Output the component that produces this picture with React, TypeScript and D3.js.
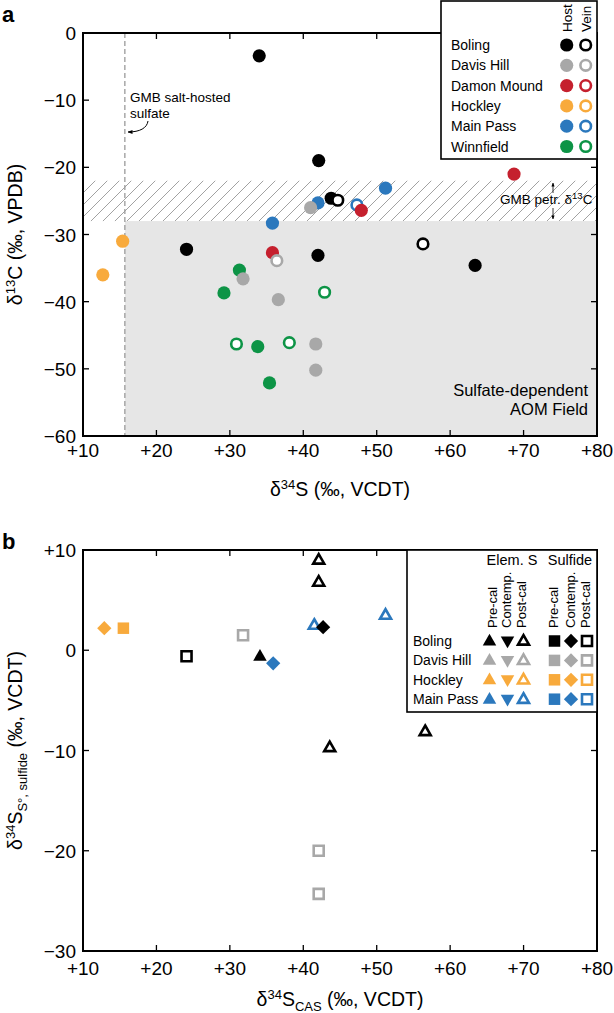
import React from "react";
import * as d3 from "d3";

// ---------- DATA ----------
const localities = ["Boling", "Davis Hill", "Damon Mound", "Hockley", "Main Pass", "Winnfield"];
const localityColors = ["#000000", "#a8a8a8", "#c5202e", "#f8aa3c", "#2b78bd", "#0d9446"];

// Panel a: [δ34S, δ13C]
const bolingHost = [[34.0, -3.4], [42.1, -19.0], [43.8, -24.6], [24.1, -32.2], [42.0, -33.1], [63.4, -34.6]];
const bolingVein = [[44.7, -24.9], [56.3, -31.4]];
const davisHillHost = [[41.0, -26.0], [31.8, -36.6], [36.6, -39.7], [41.7, -46.3], [41.7, -50.2]];
const davisHillVein = [[36.4, -33.9]];
const damonMoundHost = [[68.7, -21.0], [47.9, -26.4], [35.8, -32.7]];
const damonMoundVein: number[][] = [];
const hockleyHost = [[15.4, -31.0], [12.7, -36.0]];
const hockleyVein: number[][] = [];
const mainPassHost = [[51.2, -23.1], [42.0, -25.3], [35.8, -28.3]];
const mainPassVein = [[47.3, -25.6]];
const winnfieldHost = [[31.3, -35.3], [29.2, -38.7], [33.8, -46.7], [35.4, -52.1]];
const winnfieldVein = [[42.9, -38.6], [30.9, -46.3], [38.1, -46.1]];

const gmbPetrC = [-22, -28]; // hatched band
const aomTop = -28;
const gmbSaltSulfate = 15.7;

// Panel b: [δ34S CAS, δ34S S°/sulfide]
const bLocalities = ["Boling", "Davis Hill", "Hockley", "Main Pass"];
const bColors = ["#000000", "#a8a8a8", "#f8aa3c", "#2b78bd"];
const bolingElemPre = [[34.1, -0.6]];
const bolingElemPost = [[42.1, 9.0], [42.1, 6.8], [43.6, -9.7], [56.6, -8.1]];
const bolingSulfPost = [[24.1, -0.6]];
const bolingSulfCont = [[42.7, 2.3]];
const davisSulfPost = [[31.8, 1.5], [42.1, -20.0], [42.1, -24.3]];
const hockleySulfPre = [[15.5, 2.2]];
const hockleySulfCont = [[12.9, 2.2]];
const mainPassElemPost = [[41.5, 2.5], [51.2, 3.5]];
const mainPassSulfCont = [[35.9, -1.3]];

const xTicks = [10, 20, 30, 40, 50, 60, 70, 80];
const yTicksA = [0, -10, -20, -30, -40, -50, -60];
const yTicksB = [10, 0, -10, -20, -30];

// ---------- LAYOUT ----------
const W = 614, H = 1013;
const L = 83, R = 597;
const aTop = 33, aBot = 436;
const bTop = 550, bBot = 951;
const FONT = "'Liberation Sans', Arial, Helvetica, sans-serif";
const TICK_FS = 19;
const TITLE_FS = 19.5;

const x = d3.scaleLinear().domain([10, 80]).range([L, R]);
const yA = d3.scaleLinear().domain([-60, 0]).range([aBot, aTop]);
const yB = d3.scaleLinear().domain([-30, 10]).range([bBot, bTop]);

const fmt = (v: number) => (v > 0 ? "+" + v : v < 0 ? "\u2212" + Math.abs(v) : "0");

type Shape = "triUp" | "triDown" | "square" | "diamond";
function shapePath(shape: Shape, s: number) {
  if (shape === "triUp") {
    const h = s * 0.87;
    return `M0,${-h * 0.62}L${s / 2},${h * 0.38}L${-s / 2},${h * 0.38}Z`;
  }
  if (shape === "triDown") {
    const h = s * 0.87;
    return `M0,${h * 0.62}L${s / 2},${-h * 0.38}L${-s / 2},${-h * 0.38}Z`;
  }
  if (shape === "square") return `M${-s / 2},${-s / 2}h${s}v${s}h${-s}Z`;
  const r = s * 0.62;
  return `M0,${-r}L${r},0L0,${r}L${-r},0Z`;
}

function Marker({ cx, cy, shape, color, open }: { cx: number; cy: number; shape: Shape; color: string; open: boolean }) {
  const size = shape === "square" ? (open ? 10 : 11.5) : shape === "diamond" ? 11.5 : open ? 11 : 13.5;
  return (
    <path
      transform={`translate(${cx},${cy})`}
      d={shapePath(shape, size)}
      fill={open ? "#fff" : color}
      stroke={open ? color : "none"}
      strokeWidth={open ? 2.6 : 0}
      strokeLinejoin="miter"
    />
  );
}

function Frame({ yScale, yTicks, top, bot, labelDy }: { yScale: any; yTicks: number[]; top: number; bot: number; labelDy: number }) {
  const tl = 6;
  return (
    <g>
      {xTicks.map((t) => (
        <g key={"x" + t}>
          <line x1={x(t)} x2={x(t)} y1={bot} y2={bot - tl} stroke="#000" strokeWidth={1.3} />
          <line x1={x(t)} x2={x(t)} y1={top} y2={top + tl} stroke="#000" strokeWidth={1.3} />
          <text x={x(t)} y={bot + labelDy} textAnchor="middle" fontSize={TICK_FS}>
            {fmt(t)}
          </text>
        </g>
      ))}
      {yTicks.map((t) => (
        <g key={"y" + t}>
          <line x1={L} x2={L + tl} y1={yScale(t)} y2={yScale(t)} stroke="#000" strokeWidth={1.3} />
          <line x1={R} x2={R - tl} y1={yScale(t)} y2={yScale(t)} stroke="#000" strokeWidth={1.3} />
          <text x={L - 7} y={yScale(t) + 7} textAnchor="end" fontSize={TICK_FS}>
            {fmt(t)}
          </text>
        </g>
      ))}
      <rect x={L} y={top} width={R - L} height={bot - top} fill="none" stroke="#000" strokeWidth={2} />
    </g>
  );
}

export default function App() {
  const hostSets = [bolingHost, davisHillHost, damonMoundHost, hockleyHost, mainPassHost, winnfieldHost];
  const veinSets = [bolingVein, davisHillVein, damonMoundVein, hockleyVein, mainPassVein, winnfieldVein];
  const drawOrder = [4, 5, 0, 2, 3, 1];
  const r = 6.6;

  const bSeries: { pts: number[][]; color: string; shape: Shape; open: boolean }[] = [
    { pts: hockleySulfCont, color: bColors[2], shape: "diamond", open: false },
    { pts: hockleySulfPre, color: bColors[2], shape: "square", open: false },
    { pts: bolingSulfPost, color: bColors[0], shape: "square", open: true },
    { pts: davisSulfPost, color: bColors[1], shape: "square", open: true },
    { pts: bolingElemPre, color: bColors[0], shape: "triUp", open: false },
    { pts: mainPassSulfCont, color: bColors[3], shape: "diamond", open: false },
    { pts: bolingElemPost, color: bColors[0], shape: "triUp", open: true },
    { pts: mainPassElemPost, color: bColors[3], shape: "triUp", open: true },
    { pts: bolingSulfCont, color: bColors[0], shape: "diamond", open: false },
  ];

  const legBCols: { cx: number; shape: Shape; open: boolean }[] = [
    { cx: 489.5, shape: "triUp", open: false },
    { cx: 507.5, shape: "triDown", open: false },
    { cx: 523.5, shape: "triUp", open: true },
    { cx: 554.5, shape: "square", open: false },
    { cx: 571, shape: "diamond", open: false },
    { cx: 587, shape: "square", open: true },
  ];
  const colLabelsB = [
    { cx: 491.7, t: "Pre-cal" },
    { cx: 506, t: "Contemp." },
    { cx: 520.7, t: "Post-cal" },
    { cx: 553.3, t: "Pre-cal" },
    { cx: 570, t: "Contemp." },
    { cx: 585, t: "Post-cal" },
  ];

  return (
    <svg
      width={W}
      height={H}
      style={{ position: "absolute", left: 0, top: 0, background: "#fff" }}
      fontFamily={FONT}
    >
      <defs>
        <pattern id="hatch" patternUnits="userSpaceOnUse" width={12} height={12}>
          <path d="M-3,3L3,-3M0,12L12,0M9,15L15,9" stroke="#8a8a8a" strokeWidth={0.8} />
        </pattern>
        <marker id="ah" viewBox="0 0 10 10" refX={9} refY={5} markerWidth={5} markerHeight={5} orient="auto-start-reverse">
          <path d="M0,1L10,5L0,9Z" fill="#000" />
        </marker>
      </defs>
      <rect x={0} y={0} width={W} height={H} fill="#fff" />

      {/* ---------- Panel a ---------- */}
      <rect x={L} y={yA(gmbPetrC[0])} width={R - L} height={yA(gmbPetrC[1]) - yA(gmbPetrC[0])} fill="url(#hatch)" />
      <rect x={x(gmbSaltSulfate)} y={yA(aomTop)} width={R - x(gmbSaltSulfate)} height={yA(-60) - yA(aomTop)} fill="#e6e6e6" />
      <line x1={x(gmbSaltSulfate)} x2={x(gmbSaltSulfate)} y1={yA(0)} y2={yA(-60)} stroke="#9a9a9a" strokeWidth={1.3} strokeDasharray="5,3" />

      <text x={130} y={102} fontSize={13.5}>GMB salt-hosted</text>
      <text x={130} y={118} fontSize={13.5}>sulfate</text>
      <path d="M148,121 C147,128 140,132 128,132" fill="none" stroke="#000" strokeWidth={1} markerEnd="url(#ah)" />

      <text x={500} y={204} fontSize={13.5}>
        GMB petr. δ<tspan dy={-5} fontSize={9.5}>13</tspan>
        <tspan dy={5}>C</tspan>
      </text>
      <line x1={553} x2={553} y1={193} y2={183} stroke="#000" strokeWidth={0.8} markerEnd="url(#ah)" />
      <line x1={553} x2={553} y1={208} y2={219} stroke="#000" strokeWidth={0.8} markerEnd="url(#ah)" />

      <text x={588} y={396} textAnchor="end" fontSize={16.5}>Sulfate-dependent</text>
      <text x={588} y={415} textAnchor="end" fontSize={16.5}>AOM Field</text>

      {drawOrder.map((i) => (
        <g key={"loc" + i}>
          {hostSets[i].map((p, j) => (
            <circle key={"h" + j} cx={x(p[0])} cy={yA(p[1])} r={r} fill={localityColors[i]} />
          ))}
          {veinSets[i].map((p, j) => (
            <circle key={"v" + j} cx={x(p[0])} cy={yA(p[1])} r={r - 1.3} fill="#fff" stroke={localityColors[i]} strokeWidth={2.6} />
          ))}
        </g>
      ))}

      <Frame yScale={yA} yTicks={yTicksA} top={aTop} bot={aBot} labelDy={21} />

      {/* legend a */}
      <rect x={441} y={1} width={156} height={158} fill="#fff" stroke="#000" strokeWidth={1.6} />
      <text transform="translate(571.5,32) rotate(-90)" fontSize={13.5}>Host</text>
      <text transform="translate(590.5,32) rotate(-90)" fontSize={13.5}>Vein</text>
      {localities.map((name, i) => {
        const cy = 45 + i * 20.3;
        return (
          <g key={name}>
            <text x={451} y={cy + 5} fontSize={14}>{name}</text>
            <circle cx={566.7} cy={cy} r={r} fill={localityColors[i]} />
            <circle cx={585.7} cy={cy} r={r - 1.3} fill="#fff" stroke={localityColors[i]} strokeWidth={2.6} />
          </g>
        );
      })}

      <text x={2} y={22} fontSize={22} fontWeight="bold">a</text>
      <text transform={`translate(22,${(aTop + aBot) / 2}) rotate(-90)`} textAnchor="middle" fontSize={TITLE_FS}>
        δ<tspan dy={-7} fontSize={13}>13</tspan>
        <tspan dy={7}>C (‰, VPDB)</tspan>
      </text>
      <text x={(L + R) / 2} y={aBot + 60} textAnchor="middle" fontSize={TITLE_FS}>
        δ<tspan dy={-7} fontSize={13}>34</tspan>
        <tspan dy={7}>S (‰, VCDT)</tspan>
      </text>

      {/* ---------- Panel b ---------- */}
      {bSeries.map((s, i) => (
        <g key={"bs" + i}>
          {s.pts.map((p, j) => (
            <Marker key={j} cx={x(p[0])} cy={yB(p[1])} shape={s.shape} color={s.color} open={s.open} />
          ))}
        </g>
      ))}

      <Frame yScale={yB} yTicks={yTicksB} top={bTop} bot={bBot} labelDy={24} />

      {/* legend b */}
      <rect x={407} y={bTop} width={190} height={162} fill="#fff" stroke="#000" strokeWidth={1.6} />
      <text x={512} y={565} textAnchor="middle" fontSize={14.5}>Elem. S</text>
      <text x={570} y={565} textAnchor="middle" fontSize={14.5}>Sulfide</text>
      {colLabelsB.map((c, i) => (
        <text key={"cl" + i} transform={`translate(${c.cx + 4.8},628) rotate(-90)`} fontSize={13}>
          {c.t}
        </text>
      ))}
      {bLocalities.map((name, i) => {
        const cy = 641 + i * 19.4;
        return (
          <g key={"lb" + name}>
            <text x={413} y={cy + 5} fontSize={14}>{name}</text>
            {legBCols.map((c, k) => (
              <Marker key={k} cx={c.cx} cy={cy} shape={c.shape} color={bColors[i]} open={c.open} />
            ))}
          </g>
        );
      })}

      <text x={2} y={549} fontSize={22} fontWeight="bold">b</text>
      <text transform={`translate(22,${(bTop + bBot) / 2}) rotate(-90)`} textAnchor="middle" fontSize={TITLE_FS}>
        δ<tspan dy={-7} fontSize={13}>34</tspan>
        <tspan dy={7}>S</tspan>
        <tspan dy={5} fontSize={13}>S°, sulfide</tspan>
        <tspan dy={-5}> (‰, VCDT)</tspan>
      </text>
      <text x={(L + R) / 2} y={bBot + 55} textAnchor="middle" fontSize={TITLE_FS}>
        δ<tspan dy={-7} fontSize={13}>34</tspan>
        <tspan dy={7}>S</tspan>
        <tspan dy={5} fontSize={13}>CAS</tspan>
        <tspan dy={-5}> (‰, VCDT)</tspan>
      </text>
    </svg>
  );
}
